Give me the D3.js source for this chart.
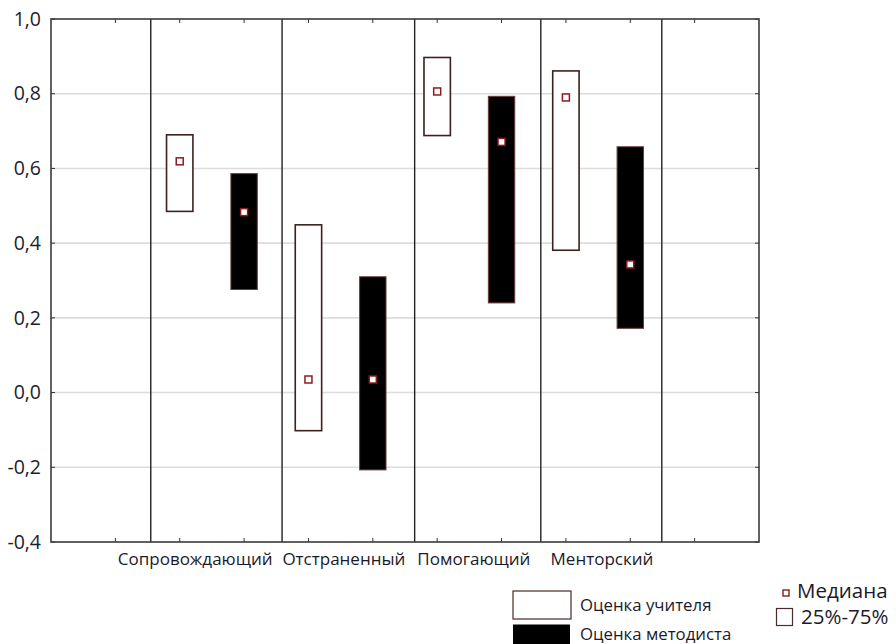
<!DOCTYPE html>
<html><head><meta charset="utf-8">
<script src="https://cdn.jsdelivr.net/npm/d3@7"></script>
<style>body{margin:0;background:#fff}svg{display:block}</style>
</head><body><svg id="c" width="896" height="644"></svg>
<script>
const categories = ["Сопровождающий", "Отстраненный", "Помогающий", "Менторский"];
const teacherQ1 = [0.485, -0.102, 0.688, 0.381];
const teacherMedian = [0.619, 0.035, 0.806, 0.790];
const teacherQ3 = [0.690, 0.449, 0.897, 0.861];
const methodistQ1 = [0.276, -0.207, 0.240, 0.172];
const methodistMedian = [0.483, 0.035, 0.671, 0.343];
const methodistQ3 = [0.586, 0.310, 0.793, 0.658];
const yTicks = [1.0, 0.8, 0.6, 0.4, 0.2, 0.0, -0.2, -0.4];
const seriesNames = ["Оценка учителя", "Оценка методиста"];
const legendNames = ["Медиана", "25%-75%"];
const separators = [1.55, 3.59, 5.65, 7.61, 9.49];
const labelPos = [2.24, 4.55, 6.57, 8.56];

const svg = d3.select("#c");
const L = 51, R = 759, T = 19, B = 542;
const x = d3.scaleLinear().domain([0, 11]).range([L, R]);
const y = d3.scaleLinear().domain([-0.4, 1.0]).range([B, T]);
const font = "'Open Sans', 'Noto Sans', sans-serif";

// gridlines
svg.append("g").selectAll("line").data(yTicks.filter(v => v > -0.4 && v < 1.0)).join("line")
  .attr("x1", L).attr("x2", R).attr("y1", d => y(d)).attr("y2", d => y(d))
  .attr("stroke", "#dcdcdc").attr("stroke-width", 1.6);

// separators
svg.append("g").selectAll("line").data(separators).join("line")
  .attr("x1", d => x(d)).attr("x2", d => x(d)).attr("y1", T).attr("y2", B)
  .attr("stroke", "#222").attr("stroke-width", 1.4);

// axes (inner ticks)
const yAxisL = d3.axisLeft(y).tickValues(yTicks).tickSize(0).tickPadding(10)
  .tickFormat(d => d3.format(".1f")(d).replace(".", ",").replace("−", "-"));
const gy = svg.append("g").attr("transform", `translate(${L},0)`).call(yAxisL);
gy.select(".domain").remove();
gy.selectAll("text").attr("font-family", font).attr("font-size", 19.5).attr("fill", "#1c1c2e");

const xTickVals = d3.range(1, 11);
svg.append("g").selectAll("line").data(xTickVals).join("line")
  .attr("x1", d => x(d)).attr("x2", d => x(d)).attr("y1", T).attr("y2", T + 4)
  .attr("stroke", "#333").attr("stroke-width", 1);
svg.append("g").selectAll("line").data(xTickVals).join("line")
  .attr("x1", d => x(d)).attr("x2", d => x(d)).attr("y1", B).attr("y2", B - 4)
  .attr("stroke", "#333").attr("stroke-width", 1);
svg.append("g").selectAll("line").data(yTicks).join("line")
  .attr("x1", L).attr("x2", L + 4).attr("y1", d => y(d)).attr("y2", d => y(d))
  .attr("stroke", "#333").attr("stroke-width", 1);
svg.append("g").selectAll("line").data(yTicks).join("line")
  .attr("x1", R).attr("x2", R - 4).attr("y1", d => y(d)).attr("y2", d => y(d))
  .attr("stroke", "#333").attr("stroke-width", 1);

// frame
svg.append("rect").attr("x", L).attr("y", T).attr("width", R - L).attr("height", B - T)
  .attr("fill", "none").attr("stroke", "#3a3a3a").attr("stroke-width", 1.6);

// boxes
const bw = x(0.41) - x(0);
const series = [
  {q1: teacherQ1, q3: teacherQ3, med: teacherMedian, off: 0, fill: "#fff", stroke: "#3e2020", sw: 1.6},
  {q1: methodistQ1, q3: methodistQ3, med: methodistMedian, off: 1, fill: "#000", stroke: "#6a3a3a", sw: 1}
];
series.forEach(s => {
  const data = categories.map((c, i) => ({i, q1: s.q1[i], q3: s.q3[i], med: s.med[i]}));
  svg.append("g").selectAll("rect").data(data).join("rect")
    .attr("x", d => x(2 + 2 * d.i + s.off) - bw / 2)
    .attr("width", bw)
    .attr("y", d => y(d.q3)).attr("height", d => y(d.q1) - y(d.q3))
    .attr("fill", s.fill).attr("stroke", s.stroke).attr("stroke-width", s.sw);
  svg.append("g").selectAll("rect").data(data).join("rect")
    .attr("x", d => x(2 + 2 * d.i + s.off) - 3.5)
    .attr("y", d => y(d.med) - 3.5)
    .attr("width", 7).attr("height", 7)
    .attr("fill", "#fff").attr("stroke", "#8b1c1c").attr("stroke-width", 1.5);
});

// category labels
svg.append("g").selectAll("text").data(categories).join("text")
  .attr("x", (d, i) => x(labelPos[i])).attr("y", 565)
  .attr("text-anchor", "middle").attr("font-family", font).attr("font-size", 17)
  .attr("fill", "#1a1a2a").text(d => d);

// series legend
const lg = svg.append("g");
lg.append("rect").attr("x", 513).attr("y", 591).attr("width", 58).attr("height", 28)
  .attr("fill", "#fff").attr("stroke", "#5a3a3a").attr("stroke-width", 1.3);
lg.append("rect").attr("x", 513).attr("y", 624.5).attr("width", 57).attr("height", 25)
  .attr("fill", "#000");
lg.selectAll("text").data(seriesNames).join("text")
  .attr("x", 580).attr("y", (d, i) => i === 0 ? 611 : 640)
  .attr("font-family", font).attr("font-size", 16.8).attr("fill", "#1a1a2a").text(d => d);

// median / quartile legend
const lg2 = svg.append("g");
lg2.append("rect").attr("x", 783).attr("y", 590).attr("width", 6).attr("height", 6)
  .attr("fill", "#fff").attr("stroke", "#8b1c1c").attr("stroke-width", 1.4);
lg2.append("rect").attr("x", 776.5).attr("y", 608.5).attr("width", 16).attr("height", 17)
  .attr("fill", "#fff").attr("stroke", "#4a2a2a").attr("stroke-width", 1.2);
lg2.selectAll("text").data(legendNames).join("text")
  .attr("x", (d, i) => i === 0 ? 797 : 801).attr("y", (d, i) => i === 0 ? 598 : 624)
  .attr("font-family", font).attr("font-size", 20.5).attr("fill", "#1a1a2a").text(d => d);
</script></body></html>
